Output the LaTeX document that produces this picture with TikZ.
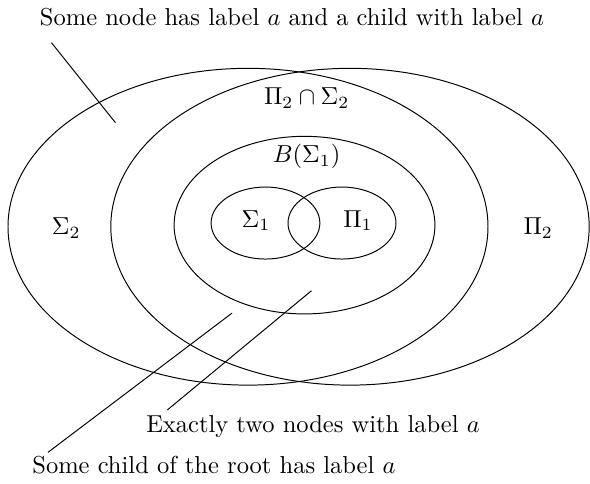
\documentclass[tikz,border=0pt]{standalone}
\usepackage{amsmath, amssymb}
\usepackage{tikz}
\usetikzlibrary{positioning}

\begin{document}
\begin{tikzpicture}[x=1.147cm, y=1.147cm, font=\normalsize]

\useasboundingbox (-3.7375, -3.204) rectangle (3.6375, 2.834);

% Outer classes
\draw (-0.6375, 0) ellipse (3 and 1.98);
\draw (0.6375, 0) ellipse (2.99 and 1.98);

% Boolean closure and level one
\draw (0.069, 0.02) ellipse (1.63 and 1.11);
\draw (-0.419, 0.046) ellipse (0.68 and 0.45);
\draw (0.5375, 0.046) ellipse (0.675 and 0.45);

% Class labels
\node (sig2) at (-2.91, -0.016) {$\Sigma_2$};
\node (pi2) at (2.99, -0.016) {$\Pi_2$};
\node (inter) at (0.096, 1.605) {$\Pi_2 \cap \Sigma_2$};
\node (bool) at (0.096, 0.875) {$B(\Sigma_1)$};
\node (sig1) at (-0.5375, 0.075) {$\Sigma_1$};
\node (pi1) at (0.7375, 0.075) {$\Pi_1$};

% Example properties
\node (ex1) at (-0.0875, 2.621) {Some node has label $a$ and a child with label $a$};
\node (ex2) at (0.175, -2.496) {Exactly two nodes with label $a$};
\node (ex3) at (-1.0625, -2.975) {Some child of the root has label $a$};

% Pointers
\coordinate (p1s) at (-3.094, 2.30);
\coordinate (p1e) at (-2.294, 1.30);
\coordinate (p2s) at (-1.645, -2.29);
\coordinate (p2e) at (0.156, -0.80);
\coordinate (p3s) at (-3.1375, -2.82);
\coordinate (p3e) at (-0.8375, -1.08);
\draw (p1s) -- (p1e);
\draw (p2s) -- (p2e);
\draw (p3s) -- (p3e);

\end{tikzpicture}
\end{document}
